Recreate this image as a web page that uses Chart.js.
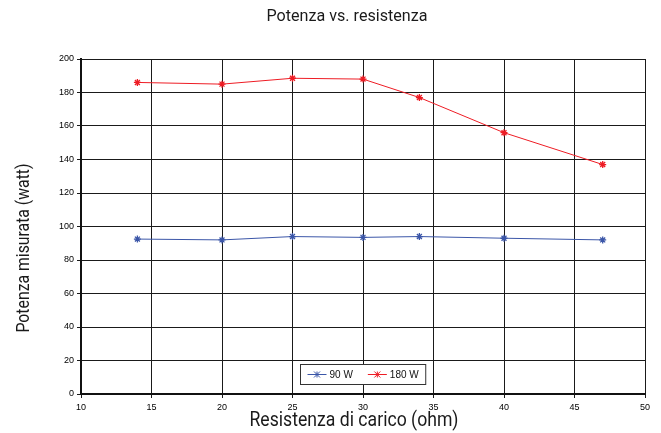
<!DOCTYPE html>
<html><head><meta charset="utf-8">
<script src="https://cdn.jsdelivr.net/npm/chart.js@4/dist/chart.umd.min.js"></script>
<style>html,body{margin:0;padding:0;background:#fff}#wrap{width:661px;height:433px}</style>
</head><body><div id="wrap"><canvas id="c" width="661" height="433"></canvas></div>
<script>
// ---- data ----
const resistenza = [14, 20, 25, 30, 34, 40, 47];
const potenza90 = [92.5, 92, 94, 93.5, 94, 93, 92];
const potenza180 = [186, 185, 188.5, 188, 177, 156, 137];
const seriesLabels = ['90 W', '180 W'];
const titleText = 'Potenza vs. resistenza';
const xTitle = 'Resistenza di carico (ohm)';
const yTitle = 'Potenza misurata (watt)';
const xTicks = { min: 10, max: 50, step: 5 };
const yTicks = { min: 0, max: 200, step: 20 };

const BLUE = '#3b56a8';
const RED = '#ee1c24';
const TITLEFONT = "Roboto, 'Liberation Sans', sans-serif";
const TICKFONT = { family: "'Liberation Sans', Arial, sans-serif", size: 9 };

function toPoints(xs, ys) { return xs.map((x, i) => ({ x: x, y: ys[i] })); }

function drawStar(ctx, x, y, r, color) {
  ctx.save();
  ctx.strokeStyle = color; ctx.lineWidth = 1;
  ctx.beginPath();
  ctx.moveTo(x - r, y - r); ctx.lineTo(x + r, y + r);
  ctx.moveTo(x - r, y + r); ctx.lineTo(x + r, y - r);
  ctx.moveTo(x, y - r); ctx.lineTo(x, y + r);
  ctx.moveTo(x - r, y); ctx.lineTo(x + r, y);
  ctx.stroke();
  ctx.restore();
}

// condensed-looking text: regular font squeezed horizontally to a target width
function narrowText(ctx, text, cx, cy, size, targetW, angle) {
  ctx.save();
  ctx.font = size + 'px ' + TITLEFONT;
  const w = ctx.measureText(text).width;
  ctx.translate(cx, cy);
  if (angle) ctx.rotate(angle);
  ctx.scale(targetW / w, 1);
  ctx.textAlign = 'center';
  ctx.textBaseline = 'middle';
  ctx.fillStyle = '#1a1a1a';
  ctx.fillText(text, 0, 0);
  ctx.restore();
}

const textPlugin = {
  id: 'texts',
  afterDraw(chart) {
    const ctx = chart.ctx;
    const a = chart.chartArea;
    narrowText(ctx, titleText, 347, 17, 17, 161, 0);
    narrowText(ctx, xTitle, 354, 421, 20, 209, 0);
    narrowText(ctx, yTitle, 24, 248, 19, 169, -Math.PI / 2);

    // legend box inside plot area
    const ds = chart.data.datasets;
    ctx.save();
    ctx.font = '10px ' + TICKFONT.family;
    const pad = 7, lineW = 19, gap1 = 3, gap2 = 15;
    let w = pad * 2;
    ds.forEach((d, i) => { w += lineW + gap1 + ctx.measureText(d.label).width; if (i < ds.length - 1) w += gap2; });
    const h = 20;
    const cx = (a.left + a.right) / 2;
    const bx = Math.round(cx - w / 2) + 0.5;
    const by = Math.round(a.bottom - 10 - h) + 0.5;
    ctx.fillStyle = '#fff';
    ctx.fillRect(bx, by, w, h);
    ctx.strokeStyle = '#333';
    ctx.lineWidth = 1;
    ctx.strokeRect(bx, by, w, h);
    let x = bx + pad;
    const yMid = by + h / 2;
    ds.forEach((d) => {
      ctx.strokeStyle = d.borderColor;
      ctx.lineWidth = 1;
      ctx.beginPath(); ctx.moveTo(x, yMid); ctx.lineTo(x + lineW, yMid); ctx.stroke();
      drawStar(ctx, x + lineW / 2, yMid, 3, d.borderColor);
      x += lineW + gap1;
      ctx.fillStyle = '#111';
      ctx.textAlign = 'left';
      ctx.textBaseline = 'middle';
      ctx.fillText(d.label, x, yMid + 0.5);
      x += ctx.measureText(d.label).width + gap2;
    });
    ctx.restore();
  }
};

new Chart(document.getElementById('c'), {
  type: 'line',
  data: {
    datasets: [
      { label: seriesLabels[0], data: toPoints(resistenza, potenza90), borderColor: BLUE, backgroundColor: BLUE,
        borderWidth: 1, pointStyle: 'star', pointRadius: 3.5, pointBorderWidth: 1.3, fill: false, tension: 0 },
      { label: seriesLabels[1], data: toPoints(resistenza, potenza180), borderColor: RED, backgroundColor: RED,
        borderWidth: 1, pointStyle: 'star', pointRadius: 3.5, pointBorderWidth: 1.3, fill: false, tension: 0 }
    ]
  },
  options: {
    responsive: false,
    animation: false,
    devicePixelRatio: 1,
    layout: { padding: { top: 59, right: 16, left: 0, bottom: 0 } },
    plugins: { legend: { display: false }, title: { display: false }, tooltip: { enabled: false } },
    scales: {
      x: {
        type: 'linear', min: xTicks.min, max: xTicks.max,
        ticks: { stepSize: xTicks.step, font: TICKFONT, color: '#000', padding: 4, maxRotation: 0 },
        grid: { color: '#1a1a1a', lineWidth: 1, tickLength: 4, drawTicks: true },
        border: { color: '#111', width: 2 },
        afterFit(s) { s.height = 39; }
      },
      y: {
        min: yTicks.min, max: yTicks.max,
        ticks: { stepSize: yTicks.step, font: TICKFONT, color: '#000', padding: 3 },
        grid: { color: '#1a1a1a', lineWidth: 1, tickLength: 4, drawTicks: true },
        border: { color: '#111', width: 2 },
        afterFit(s) { s.width = 81; }
      }
    }
  },
  plugins: [textPlugin]
});
</script>
</body></html>
